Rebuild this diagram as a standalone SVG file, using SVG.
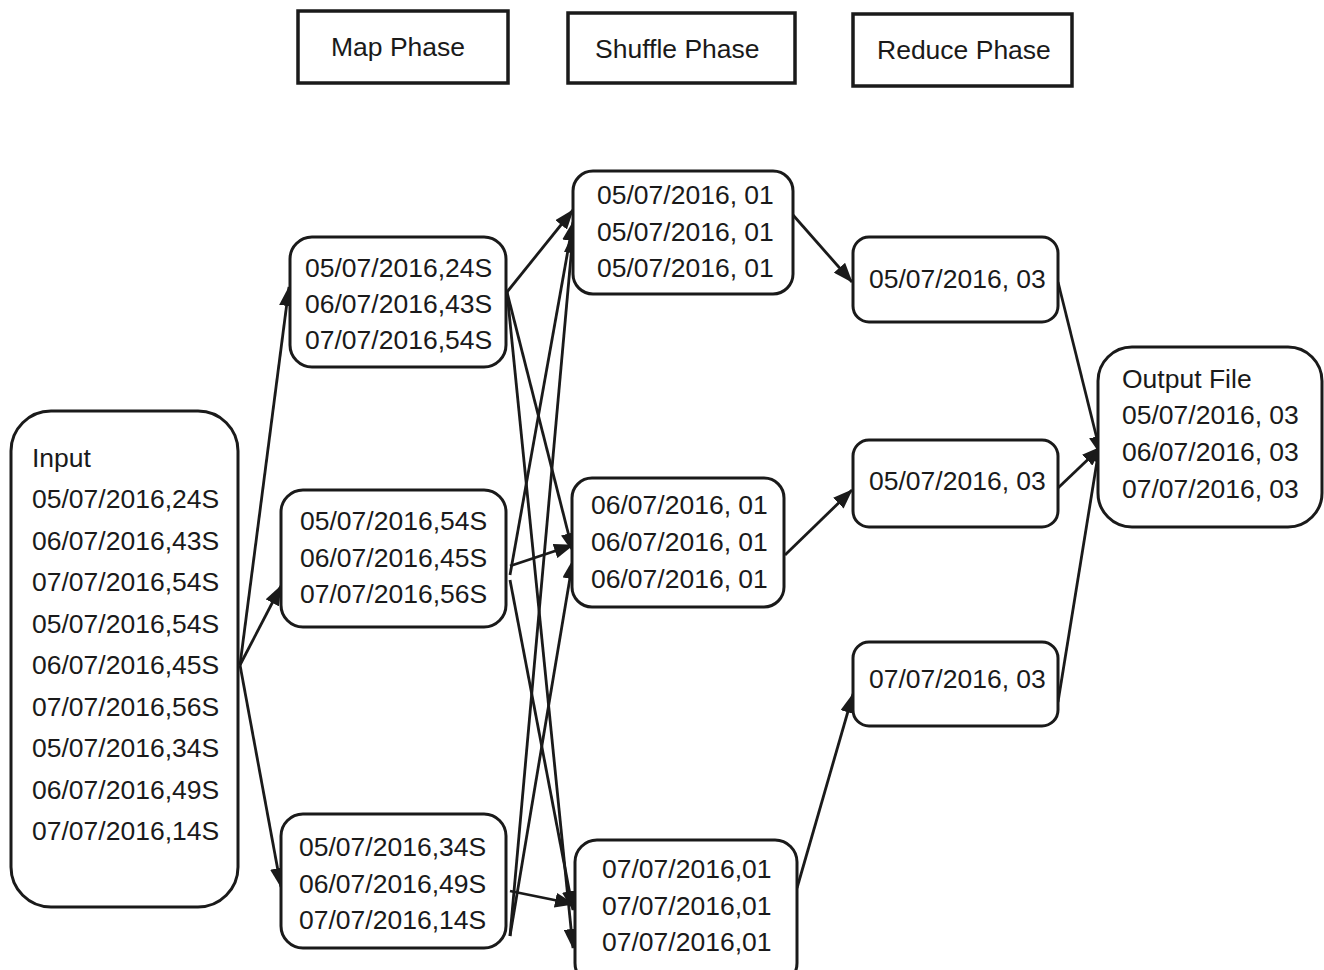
<svg xmlns="http://www.w3.org/2000/svg" width="1324" height="970" viewBox="0 0 1324 970">
<style>
.box{fill:#fff;stroke:#1a1a1a;stroke-width:3}
.ph{fill:#fff;stroke:#1a1a1a;stroke-width:3.5}
text{font-family:"Liberation Sans",Arial,sans-serif;font-size:26.5px;fill:#1a1a1a}
.c line{stroke:#1a1a1a;stroke-width:2.8;marker-end:url(#ah)}
</style>
<defs>
<marker id="ah" viewBox="0 0 20 15" refX="19" refY="7.5" markerWidth="20" markerHeight="15" markerUnits="userSpaceOnUse" orient="auto">
<path d="M0,0 L20,7.5 L0,15 Z" fill="#1a1a1a"/>
</marker>
</defs>
<rect width="1324" height="970" fill="#fff"/>

<g id="map-phase"><rect class="ph" x="298" y="11" width="210" height="72"/><text x="331" y="56">Map Phase</text></g>
<g id="shuffle-phase"><rect class="ph" x="568" y="13" width="227" height="70"/><text x="595" y="58">Shuffle Phase</text></g>
<g id="reduce-phase"><rect class="ph" x="853" y="14" width="219" height="72"/><text x="877" y="59">Reduce Phase</text></g>

<g class="c" id="connectors">
<line x1="240" y1="665" x2="289" y2="287"/>
<line x1="240" y1="665" x2="281" y2="586"/>
<line x1="240" y1="665" x2="281" y2="887"/>

<line x1="507" y1="292" x2="573" y2="210"/>
<line x1="507" y1="292" x2="573" y2="552"/>
<line x1="507" y1="292" x2="573" y2="948"/>
<line x1="510" y1="575" x2="573" y2="222"/>
<line x1="510" y1="566" x2="573" y2="545"/>
<line x1="510" y1="580" x2="573" y2="910"/>
<line x1="510" y1="936" x2="573" y2="234"/>
<line x1="510" y1="936" x2="573" y2="560"/>
<line x1="510" y1="891" x2="574" y2="904"/>

<line x1="793" y1="215" x2="852" y2="282"/>
<line x1="785" y1="555" x2="852" y2="490"/>
<line x1="797" y1="888" x2="853" y2="694"/>

<line x1="1058" y1="282" x2="1101" y2="455"/>
<line x1="1058" y1="488" x2="1101" y2="447"/>
<line x1="1058" y1="702" x2="1100" y2="443"/>
</g>

<g id="input"><rect class="box" x="11" y="411" width="227" height="496" rx="40"/>
<text x="32" y="467">Input</text>
<text x="32" y="508">05/07/2016,24S</text>
<text x="32" y="550">06/07/2016,43S</text>
<text x="32" y="591">07/07/2016,54S</text>
<text x="32" y="633">05/07/2016,54S</text>
<text x="32" y="674">06/07/2016,45S</text>
<text x="32" y="716">07/07/2016,56S</text>
<text x="32" y="757">05/07/2016,34S</text>
<text x="32" y="799">06/07/2016,49S</text>
<text x="32" y="840">07/07/2016,14S</text>
</g>

<g id="map1"><rect class="box" x="290" y="237" width="216" height="130" rx="22"/>
<text x="305" y="277">05/07/2016,24S</text><text x="305" y="313">06/07/2016,43S</text><text x="305" y="349">07/07/2016,54S</text></g>
<g id="map2"><rect class="box" x="281" y="490" width="225" height="137" rx="22"/>
<text x="300" y="530">05/07/2016,54S</text><text x="300" y="567">06/07/2016,45S</text><text x="300" y="603">07/07/2016,56S</text></g>
<g id="map3"><rect class="box" x="281" y="814" width="225" height="134" rx="22"/>
<text x="299" y="856">05/07/2016,34S</text><text x="299" y="893">06/07/2016,49S</text><text x="299" y="929">07/07/2016,14S</text></g>

<g id="shuffle1"><rect class="box" x="573" y="171" width="220" height="123" rx="20"/>
<text x="597" y="204">05/07/2016, 01</text><text x="597" y="241">05/07/2016, 01</text><text x="597" y="277">05/07/2016, 01</text></g>
<g id="shuffle2"><rect class="box" x="572" y="478" width="212" height="129" rx="20"/>
<text x="591" y="514">06/07/2016, 01</text><text x="591" y="551">06/07/2016, 01</text><text x="591" y="588">06/07/2016, 01</text></g>
<g id="shuffle3"><rect class="box" x="575" y="840" width="222" height="145" rx="22"/>
<text x="602" y="878">07/07/2016,01</text><text x="602" y="915">07/07/2016,01</text><text x="602" y="951">07/07/2016,01</text></g>

<g id="reduce1"><rect class="box" x="853" y="237" width="205" height="85" rx="16"/><text x="869" y="288">05/07/2016, 03</text></g>
<g id="reduce2"><rect class="box" x="853" y="440" width="205" height="87" rx="16"/><text x="869" y="490">05/07/2016, 03</text></g>
<g id="reduce3"><rect class="box" x="853" y="642" width="205" height="84" rx="16"/><text x="869" y="688">07/07/2016, 03</text></g>

<g id="output"><rect class="box" x="1098" y="347" width="224" height="180" rx="34"/>
<text x="1122" y="388">Output File</text><text x="1122" y="424">05/07/2016, 03</text><text x="1122" y="461">06/07/2016, 03</text><text x="1122" y="498">07/07/2016, 03</text></g>
</svg>
